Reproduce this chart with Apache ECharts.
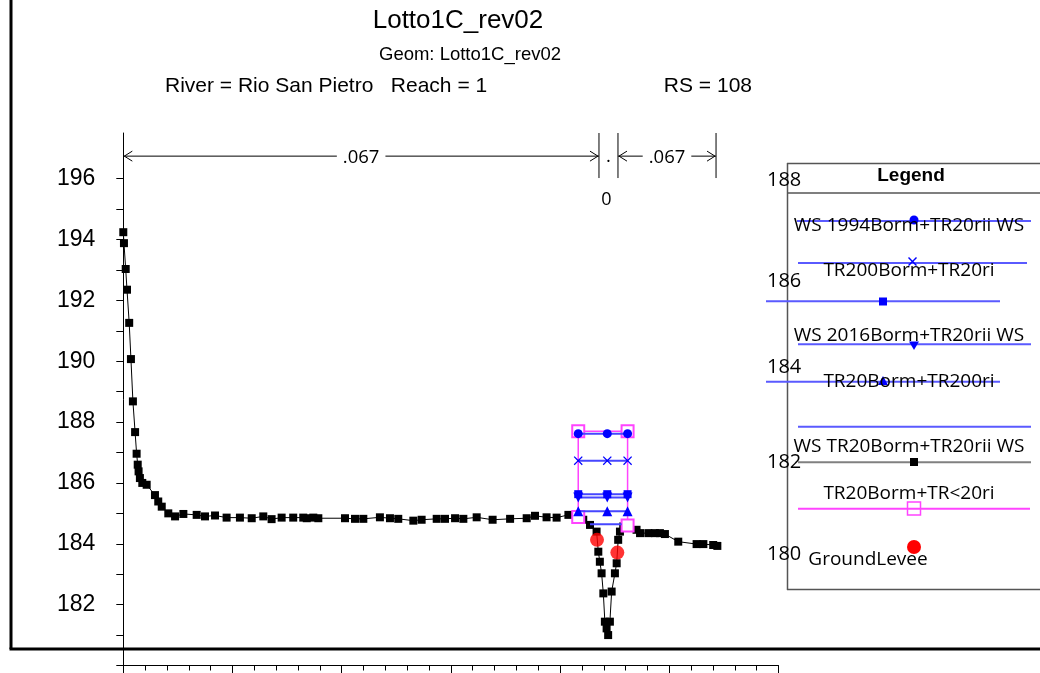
<!DOCTYPE html>
<html><head><meta charset="utf-8">
<script src="https://cdn.jsdelivr.net/npm/echarts@6/dist/echarts.min.js"></script>
<style>html,body{margin:0;padding:0;background:#fff;overflow:hidden}#c{width:1040px;height:673px}</style>
</head><body><div id="c"></div>
<script>
// ---------------- data ----------------
const groundX = [0.00,0.03,0.11,0.17,0.27,0.35,0.44,0.54,0.61,0.66,0.70,0.76,0.87,1.07,1.45,1.60,1.76,2.06,2.37,2.75,3.36,3.74,4.20,4.73,5.34,5.88,6.41,6.79,7.25,7.78,8.24,8.40,8.70,8.93,10.15,10.61,10.99,11.75,12.21,12.59,13.28,13.66,14.35,14.73,15.19,15.57,16.18,16.91,17.71,18.47,18.85,19.38,19.84,20.38,20.76,21.06,21.37,21.67,21.75,21.82,21.90,21.98,22.05,22.13,22.20,22.28,22.36,22.51,22.59,22.66,22.74,22.89,23.07,23.12,23.50,23.66,24.04,24.34,24.57,24.80,25.41,26.25,26.56,27.01,27.20];
const groundY = [194.24,193.88,193.03,192.35,191.26,190.07,188.68,187.67,186.96,186.60,186.38,186.16,186.00,185.94,185.60,185.39,185.22,185.00,184.90,184.98,184.95,184.90,184.93,184.86,184.86,184.84,184.90,184.81,184.86,184.86,184.86,184.84,184.86,184.84,184.84,184.82,184.82,184.87,184.84,184.82,184.76,184.79,184.82,184.82,184.84,184.82,184.87,184.79,184.82,184.84,184.92,184.87,184.86,184.95,184.89,184.79,184.62,184.40,183.74,183.41,183.03,182.37,181.44,181.22,181.00,181.44,182.43,183.03,183.36,184.13,184.40,184.57,184.57,184.52,184.46,184.35,184.35,184.35,184.35,184.32,184.07,183.99,183.99,183.96,183.93];
const leveeX = [21.69, 22.62];
const leveeY = [184.13, 183.71];
const wsX = [20.83, 22.16, 23.09];
const ws1994Y = [187.62, 187.62, 187.62];
const tr200Y = [186.73, 186.73, 186.73];
const wsSquareY = [185.63, 185.63, 185.63];
const ws2016Y = [185.52, 185.52, 185.52];
const tr20tr200Y = [185.07, 185.07, 185.07];
const wsTR20X = [21.37, 22.82];
const wsTR20Y = [184.64, 184.64];
const deckX = [20.83, 20.83, 23.09, 23.09];
const deckY = [184.88, 187.70, 187.70, 184.60];
const nStations = [0, 21.78, 22.65, 27.14];
const nLabels = ['.067', '.', '.067'];
const nSubLabels = ['', '0', ''];
const yTickValues = [180,181,182,183,184,185,186,187,188,189,190,191,192,193,194,195,196];
const yLabelValues = [182,184,186,188,190,192,194,196];
const titleText = 'Lotto1C_rev02';
const geomText = 'Geom: Lotto1C_rev02';
const riverText = 'River = Rio San Pietro   Reach = 1';
const rsText = 'RS = 108';
const legendTexts = ['WS 1994Borm+TR20rii WS','TR200Borm+TR20ri','WS 2016Borm+TR20rii WS','TR20Borm+TR200ri','WS TR20Borm+TR20rii WS','TR20Borm+TR<20ri','GroundLevee'];
const legendNums = ['188','186','184','182','180'];

// ---------------- chart ----------------
const zip = (xs, ys) => xs.map((x, i) => [x, ys[i]]);
const BLUE = '#0000ff', BLUELINE = '#4646ff', MAG = '#ff44ff';
const XPATH = 'path://M0,1L1,0L5,4L9,0L10,1L6,5L10,9L9,10L5,6L1,10L0,9L4,5Z';
const TRIDOWN = 'path://M0,0L10,0L5,9Z';
const chart = echarts.init(document.getElementById('c'), null, {renderer: 'canvas'});

function wsSeries(ys, symbol, size) {
  return {type: 'line', data: zip(wsX, ys), symbol: symbol, symbolSize: size, showSymbol: true,
    lineStyle: {color: BLUELINE, width: 2}, itemStyle: {color: BLUE}, z: 5, animation: false};
}

chart.setOption({
  animation: false,
  backgroundColor: '#fff',
  grid: {left: 123.3, right: 261.5, top: 133, bottom: 7.5, containLabel: false},
  xAxis: {type: 'value', min: 0, max: 30, interval: 5,
    axisLine: {show: true, lineStyle: {color: '#000', width: 1}},
    axisTick: {show: true, length: 8, lineStyle: {color: '#000'}},
    minorTick: {show: true, splitNumber: 5, length: 5, lineStyle: {color: '#000'}},
    axisLabel: {show: false}, splitLine: {show: false}},
  yAxis: {type: 'value', min: 180, max: 197.5, interval: 1,
    axisLine: {show: true, lineStyle: {color: '#000', width: 1}},
    axisTick: {show: true, length: 7, customValues: yTickValues, lineStyle: {color: '#000'}},
    axisLabel: {show: true, customValues: yLabelValues, margin: 28, color: '#000', fontSize: 23, fontFamily: 'Liberation Sans'},
    splitLine: {show: false}},
  series: [
    {type: 'line', data: zip(groundX, groundY), symbol: 'rect', symbolSize: 8,
      lineStyle: {color: '#000', width: 1}, itemStyle: {color: '#000'}, z: 2},
    {type: 'line', data: zip(deckX, deckY), symbol: 'emptyRect', symbolSize: 12,
      lineStyle: {color: MAG, width: 1.5}, itemStyle: {color: MAG, borderColor: MAG, borderWidth: 1.5}, z: 3},
    {type: 'scatter', data: zip(leveeX, leveeY), symbol: 'circle', symbolSize: 14,
      itemStyle: {color: '#ff0000'}, z: 4},
    wsSeries(ws1994Y, 'circle', 9),
    wsSeries(tr200Y, XPATH, 9),
    wsSeries(wsSquareY, 'rect', 8),
    wsSeries(ws2016Y, TRIDOWN, 10),
    wsSeries(tr20tr200Y, 'triangle', 10),
    {type: 'line', data: zip(wsTR20X, wsTR20Y), symbol: 'none', lineStyle: {color: BLUELINE, width: 2}, z: 5}
  ]
});

// ---------------- graphics ----------------
const g = [];
const line = (x1, y1, x2, y2, color, w) => g.push({type: 'line', shape: {x1, y1, x2, y2}, style: {stroke: color, lineWidth: w}, z: 50});
const text = (t, x, y, font, align, extra) => g.push({type: 'text', x, y, style: Object.assign({text: t, font: font, fill: '#000', align: align || 'center', verticalAlign: 'middle'}, extra || {}), z: 60});

// frame
line(11, 0, 11, 649, '#000', 3);
line(9.5, 649, 1040, 649, '#000', 3);

// titles
text(titleText, 458, 21, '26px "Liberation Sans"');
text(geomText, 470, 55, '18.5px "Liberation Sans"');
text(riverText, 165, 86, '21px "Liberation Sans"', 'left');
text(rsText, 752, 86, '21px "Liberation Sans"', 'right');

// roughness dimension annotations
const P = (x, y) => chart.convertToPixel({gridIndex: 0}, [x, y]);
const dimY = P(0, 196.74)[1];
const vTop = P(0, 197.5)[1];
const vBot = P(0, 196.02)[1];
for (let i = 1; i < nStations.length; i++) {
  const px = P(nStations[i], 190)[0];
  line(px, vTop, px, vBot, '#000', 1);
}
for (let i = 0; i < nLabels.length; i++) {
  const a = P(nStations[i], 190)[0], b = P(nStations[i + 1], 190)[0];
  const mid = (a + b) / 2;
  if (b - a > 40) {
    line(a, dimY, b, dimY, '#000', 1);
    g.push({type: 'polyline', shape: {points: [[a + 9, dimY - 5], [a + 1, dimY], [a + 9, dimY + 5]]}, style: {stroke: '#000', lineWidth: 1, fill: null}, z: 55});
    g.push({type: 'polyline', shape: {points: [[b - 9, dimY - 5], [b - 1, dimY], [b - 9, dimY + 5]]}, style: {stroke: '#000', lineWidth: 1, fill: null}, z: 55});
    text(nLabels[i], mid, dimY + 2, '18.5px "Open Sans"', 'center', {backgroundColor: '#fff', padding: [0, 6]});
  } else {
    text(nLabels[i], mid, dimY + 1, '18.5px "Open Sans"');
  }
  if (nSubLabels[i]) text(nSubLabels[i], mid - 2, dimY + 44, '18px "Open Sans"');
}

// legend box
const LC = '#555';
line(787.5, 163, 787.5, 590, LC, 1.5);
line(787, 163.5, 1040, 163.5, LC, 1.5);
line(787, 193, 1040, 193, LC, 1.5);
line(787, 589.5, 1040, 589.5, LC, 1.5);
text('Legend', 911, 176, 'bold 19px "Liberation Sans"');
const LB = '#5a5aff';
line(797, 221, 1031, 221, LB, 2);
line(798, 263, 1027, 263, LB, 2);
line(766, 301.3, 1000, 301.3, LB, 2);
line(798, 344.3, 1031, 344.3, LB, 2);
line(766, 381.7, 1000, 381.7, LB, 2);
line(798, 426.7, 1031, 426.7, LB, 2);
line(798, 462.3, 1031, 462.3, '#808080', 2);
line(798, 508.7, 1030, 508.7, MAG, 2);
g.push({type: 'circle', shape: {cx: 914, cy: 220, r: 4.5}, style: {fill: BLUE}, z: 58});
g.push({type: 'polygon', shape: {points: [[908,258],[909,257],[912.5,260.5],[916,257],[917,258],[913.5,261.5],[917,265],[916,266],[912.5,262.5],[909,266],[908,265],[911.5,261.5]]}, style: {fill: BLUE}, z: 58});
g.push({type: 'rect', shape: {x: 879, y: 297.5, width: 8, height: 8}, style: {fill: BLUE}, z: 58});
g.push({type: 'polygon', shape: {points: [[909, 341.5], [919, 341.5], [914, 350]]}, style: {fill: BLUE}, z: 58});
g.push({type: 'polygon', shape: {points: [[878, 385], [888, 385], [883, 376]]}, style: {fill: BLUE}, z: 58});
g.push({type: 'rect', shape: {x: 910, y: 458, width: 8, height: 8}, style: {fill: '#000'}, z: 58});
g.push({type: 'rect', shape: {x: 907.5, y: 502, width: 13, height: 13}, style: {fill: null, stroke: MAG, lineWidth: 1.5}, z: 58});
g.push({type: 'circle', shape: {cx: 914, cy: 547, r: 7}, style: {fill: '#ff0000'}, z: 58});
const legY = [226, 270.5, 336, 382, 447, 494];
legendTexts.slice(0, 6).forEach((t, i) => text(t, 909, legY[i], '19px "Open Sans"'));
text(legendTexts[6], 868, 560, '19px "Open Sans"');
const numY = [180, 281, 367, 462, 554];
legendNums.forEach((t, i) => text(t, 767, numY[i], '20px "Open Sans"', 'left'));

chart.setOption({graphic: {elements: g}});
</script>
</body></html>
